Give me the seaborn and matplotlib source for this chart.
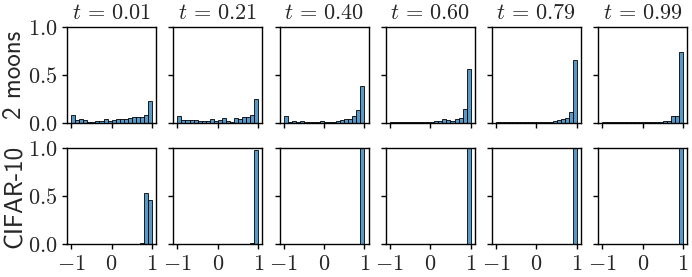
import numpy as np
import pandas as pd
import matplotlib
matplotlib.use("Agg")
import matplotlib.pyplot as plt
import seaborn as sns

# histogramas de fracciones por t (20 bins de -1 a 1)
times = ["0.01", "0.21", "0.40", "0.60", "0.79", "0.99"]
row_labels = ["2 moons", "CIFAR-10"]
bin_edges = np.linspace(-1, 1, 21)
bin_centers = (bin_edges[:-1] + bin_edges[1:]) / 2

# 2 moons
moons_001 = [0.076, 0.028, 0.035, 0.028, 0.010, 0.007, 0.017, 0.017, 0.042, 0.020,
             0.024, 0.035, 0.035, 0.038, 0.045, 0.062, 0.059, 0.059, 0.083, 0.230]
moons_021 = [0.073, 0.031, 0.031, 0.024, 0.024, 0.021, 0.014, 0.014, 0.035, 0.017,
             0.028, 0.049, 0.021, 0.007, 0.052, 0.038, 0.056, 0.056, 0.083, 0.243]
moons_040 = [0.069, 0.007, 0.014, 0.007, 0.014, 0.007, 0.004, 0.004, 0.007, 0.014,
             0.007, 0.010, 0.010, 0.017, 0.024, 0.035, 0.042, 0.073, 0.135, 0.385]
moons_060 = [0.003, 0.010, 0.010, 0.003, 0.003, 0.010, 0.010, 0.003, 0.003, 0.007,
             0.010, 0.014, 0.017, 0.035, 0.024, 0.017, 0.038, 0.049, 0.139, 0.563]
moons_079 = [0.010, 0.003, 0.003, 0.003, 0.003, 0.003, 0.003, 0.003, 0.003, 0.010,
             0.003, 0.003, 0.003, 0.007, 0.017, 0.031, 0.038, 0.052, 0.108, 0.660]
moons_099 = [0.003, 0.003, 0.003, 0.003, 0.003, 0.003, 0.003, 0.010, 0.003, 0.003,
             0.003, 0.003, 0.003, 0.003, 0.003, 0.014, 0.021, 0.073, 0.073, 0.736]

# CIFAR-10
cifar_001 = [0] * 17 + [0.007, 0.530, 0.456]
cifar_021 = [0] * 18 + [0.012, 0.985]
cifar_040 = [0] * 19 + [1.0]
cifar_060 = [0] * 19 + [1.0]
cifar_079 = [0] * 19 + [1.0]
cifar_099 = [0] * 19 + [1.0]

moons = [moons_001, moons_021, moons_040, moons_060, moons_079, moons_099]
cifar = [cifar_001, cifar_021, cifar_040, cifar_060, cifar_079, cifar_099]

sns.set_style("ticks")
plt.rcParams["mathtext.fontset"] = "cm"
plt.rcParams["axes.linewidth"] = 1.0
plt.rcParams["axes.edgecolor"] = "black"
plt.rcParams["xtick.major.size"] = 3.5
plt.rcParams["ytick.major.size"] = 3.5

fig, axes = plt.subplots(2, 6, figsize=(6.92, 2.77), dpi=100, sharex=True, sharey=True)
fig.subplots_adjust(left=0.097, right=0.993, top=0.902, bottom=0.119,
                    wspace=0.194, hspace=0.27)

for r, datos in enumerate([moons, cifar]):
    for c, alturas in enumerate(datos):
        ax = axes[r, c]
        df = pd.DataFrame({"centro": bin_centers, "altura": alturas})
        sns.histplot(data=df, x="centro", weights="altura", binwidth=0.1,
                     binrange=(-1, 1), edgecolor="black", linewidth=0.6, ax=ax)
        ax.set_ylim(0, 1)
        ax.set_xticks([-1, 0, 1])
        ax.set_yticks([0, 0.5, 1])
        ax.set_ylabel("")
        ax.set_xlabel("")
        ax.tick_params(labelsize=16, width=1.0, color="black")
        if r == 0:
            ax.set_title(r"$t\, =\, " + times[c] + "$", fontsize=16)

for ax in axes[-1, :]:
    ax.set_xticklabels(["$-1$", "$0$", "$1$"])
for r in range(2):
    axes[r, 0].set_yticklabels(["$0.0$", "$0.5$", "$1.0$"])
    axes[r, 0].set_ylabel(row_labels[r], fontsize=18, family="cmss10", labelpad=1)

plt.savefig("out.png", dpi=100)
plt.close()
